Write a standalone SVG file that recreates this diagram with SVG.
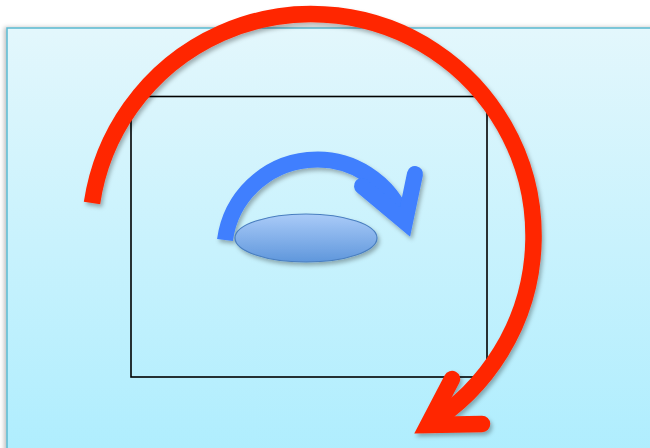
<svg xmlns="http://www.w3.org/2000/svg" width="650" height="448" viewBox="0 0 650 448">
  <defs>
    <linearGradient id="bgGrad" x1="0" y1="0" x2="0" y2="1">
      <stop offset="0" stop-color="#e3f7fc"/>
      <stop offset="1" stop-color="#adedfe"/>
    </linearGradient>
    <linearGradient id="ellGrad" x1="0" y1="0" x2="0" y2="1">
      <stop offset="0" stop-color="#aacbf8"/>
      <stop offset="1" stop-color="#5f97dc"/>
    </linearGradient>
    <filter id="shadow" x="-20%" y="-20%" width="140%" height="140%">
      <feDropShadow dx="2" dy="3" stdDeviation="2" flood-color="#000" flood-opacity="0.3"/>
    </filter>
    <filter id="bgShadow" x="-5%" y="-5%" width="110%" height="110%">
      <feDropShadow dx="-2" dy="0" stdDeviation="2" flood-color="#000" flood-opacity="0.25"/>
    </filter>
  </defs>
  <style>
    .red { fill: none; stroke: #ff2600; stroke-width: 16.5; }
    .blue { fill: none; stroke: #3f7ffe; stroke-width: 16; }
    .head { stroke-linecap: round; stroke-linejoin: miter; stroke-miterlimit: 10; }
  </style>
  <rect width="650" height="448" fill="#ffffff"/>
  <g id="background">
    <rect x="7" y="28" width="660" height="440" fill="url(#bgGrad)" stroke="#5bb9d0" stroke-width="1.5" filter="url(#bgShadow)"/>
  </g>
  <g id="frame">
    <rect x="131" y="96.5" width="356" height="280.5" fill="none" stroke="#000000" stroke-width="1.6"/>
  </g>
  <g id="connectors">
    <g id="blue-arrow" filter="url(#shadow)">
      <path class="blue" d="M225,240 A93,93 0 0 1 405,222"/>
      <polyline class="blue head" points="415,174 405,222 362,186"/>
    </g>
    <g id="red-arrow" filter="url(#shadow)">
      <path class="red" d="M92,203 A222,222 0 1 1 428,425"/>
      <polyline class="red head" points="452,379 428,425 482,424"/>
    </g>
  </g>
  <g id="ellipse">
    <ellipse cx="306" cy="238" rx="71" ry="24" fill="url(#ellGrad)" stroke="#4a7fc0" stroke-width="1.2" filter="url(#shadow)"/>
  </g>
</svg>
